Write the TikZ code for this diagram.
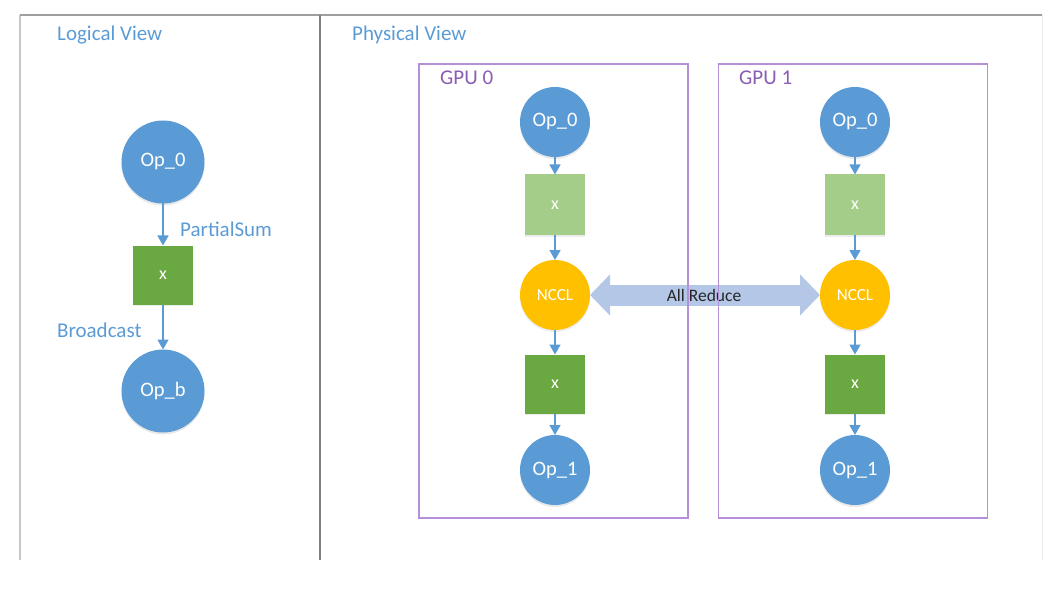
\documentclass[tikz,border=0pt]{standalone}
\usepackage{fontspec}
\setmainfont{Carlito}
\usetikzlibrary{arrows.meta,shadows}
\definecolor{opblue}{HTML}{5B9BD5}
\definecolor{dkgreen}{HTML}{6AA842}
\definecolor{ltgreen}{HTML}{A5CD8A}
\definecolor{ncclorange}{HTML}{FFC000}
\definecolor{gpupurple}{HTML}{B58FD8}
\definecolor{gputext}{HTML}{8A5CB4}
\definecolor{arrowblue}{HTML}{B4C7E7}
\tikzset{
  opnode/.style={circle,fill=opblue,text=white,minimum size=#1,inner sep=0pt,outer sep=0pt,
    font=\fontsize{20.5}{22}\selectfont,drop shadow={opacity=0.18,shadow xshift=0pt,shadow yshift=-2pt}},
  boxnode/.style={rectangle,fill=#1,text=white,minimum width=60,minimum height=60,inner sep=0pt,outer sep=0pt,
    font=\fontsize{18}{20}\selectfont,drop shadow={opacity=0.15,shadow xshift=0pt,shadow yshift=-1.5pt}},
  ncclnode/.style={circle,fill=ncclorange,text=white,minimum size=70,inner sep=0pt,outer sep=0pt,
    font=\fontsize{17}{19}\selectfont,drop shadow={opacity=0.15,shadow xshift=0pt,shadow yshift=-2pt}},
  flow/.style={draw=opblue,line width=1.5pt,-{Triangle[length=10pt,width=11pt]}},
  bluelabel/.style={text=opblue,font=\fontsize{21}{23}\selectfont,inner sep=0pt,anchor=west},
  gpubox/.style={draw=gpupurple,line width=1.5pt,rectangle,minimum width=269,minimum height=454,inner sep=0pt},
  gpulabel/.style={text=gputext,font=\fontsize{21}{23}\selectfont,inner sep=0pt,anchor=west},
  allred/.style={draw=arrowblue,line width=21pt,{Triangle[length=20pt,width=40pt]}-{Triangle[length=20pt,width=40pt]}},
}
\begin{document}
\begin{tikzpicture}[x=1pt,y=-1pt]
\useasboundingbox (0,0) rectangle (1060,596);
% frame
\coordinate (tl) at (20,15);
\coordinate (tr) at (1042,15);
\coordinate (bl) at (20,560);
\coordinate (br) at (1042,560);
\coordinate (dt) at (320,15);
\coordinate (db) at (320,560);
\draw[draw=black!8,line width=1pt] (tr) -- (br);
\draw[draw=black!22,line width=2pt] (tl) -- (bl);
\draw[draw=black!38,line width=1.5pt] (tl) -- (tr);
\draw[draw=black!50,line width=1.5pt] (dt) -- (db);
\node[bluelabel] (lv) at (57,35) {Logical View};
\node[bluelabel] (pv) at (352,35) {Physical View};
% logical view
\node[opnode=83] (l0) at (163,162) {Op\_0};
\node[boxnode=dkgreen,minimum height=59] (lx) at (163,275) {x};
\node[opnode=83] (lb) at (163,391) {Op\_b};
\draw[flow] (l0) -- (lx);
\draw[flow] (lx) -- (lb);
\node[bluelabel] (ps) at (180,229) {PartialSum};
\node[bluelabel] (bc) at (57,330) {Broadcast};
% physical view: GPU columns
\foreach \g/\cx in {a/555,b/855}{
  \node[opnode=70] (\g0) at (\cx,122) {Op\_0};
  \node[boxnode=ltgreen,minimum height=61] (\g x) at (\cx,205) {x};
  \node[ncclnode] (\g n) at (\cx,295) {NCCL};
  \node[boxnode=dkgreen,minimum height=59] (\g y) at (\cx,384) {x};
  \node[opnode=70] (\g1) at (\cx,470) {Op\_1};
  \draw[flow] (\g0) -- (\g x);
  \draw[flow] (\g x) -- (\g n);
  \draw[flow] (\g n) -- (\g y);
  \draw[flow] (\g y) -- (\g1);
}
\draw[allred] (an) -- (bn);
\node[text=black!85,font=\fontsize{17.5}{19}\selectfont,inner sep=0pt] (ar) at (704,295) {All Reduce};
\node[gpubox] (g0) at (553.5,291) {};
\node[gpubox] (g1) at (853,291) {};
\node[gpulabel] (g0l) at (440,78) {GPU 0};
\node[gpulabel] (g1l) at (739,78) {GPU 1};
\end{tikzpicture}
\end{document}
